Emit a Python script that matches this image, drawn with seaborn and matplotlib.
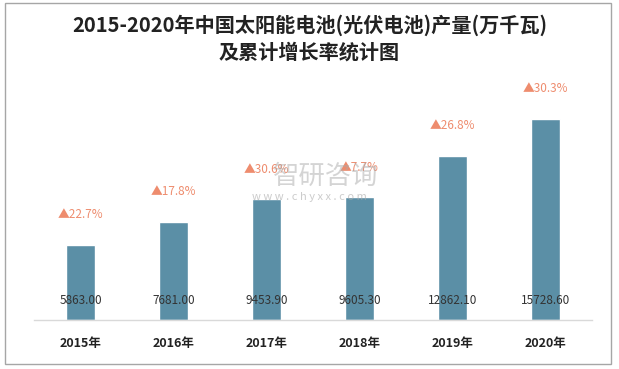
import matplotlib
matplotlib.use("Agg")
import matplotlib.pyplot as plt
import seaborn as sns
import pandas as pd
from matplotlib.patches import Rectangle

# data
years = ["2015年", "2016年", "2017年", "2018年", "2019年", "2020年"]
output = [5863.00, 7681.00, 9453.90, 9605.30, 12862.10, 15728.60]
growth = ["22.7%", "17.8%", "30.6%", "7.7%", "26.8%", "30.3%"]

df = pd.DataFrame({"year": years, "output": output})

sns.set_style("white")
plt.rcParams["font.family"] = ["Noto Sans CJK SC", "DejaVu Sans"]

fig = plt.figure(figsize=(6.19, 3.69), dpi=100)
ax = fig.add_axes([34 / 619, 1 - 320 / 369, 558 / 619, 245 / 369])

sns.barplot(data=df, x="year", y="output", color="#5B8FA6", width=0.31,
            saturation=1, ax=ax)

ax.set_ylim(0, 19170)
ax.set_xlim(-0.5, 5.5)
ax.set_xlabel("")
ax.set_ylabel("")
ax.set_yticks([])
ax.tick_params(axis="x", length=0, pad=12)
for lbl in ax.get_xticklabels():
    lbl.set_fontweight("bold")
    lbl.set_fontsize(9)
    lbl.set_color("#222222")
for side in ["top", "left", "right"]:
    ax.spines[side].set_visible(False)
ax.spines["bottom"].set_color("#D9D9D9")
ax.spines["bottom"].set_linewidth(1)

for i, (v, g) in enumerate(zip(output, growth)):
    ax.annotate(f"{v:.2f}", (i, 0), xytext=(0, 9), textcoords="offset points",
                ha="center", va="bottom", fontsize=8.5, color="#333333")
    ax.annotate("▲" + g, (i, v), xytext=(0, 17), textcoords="offset points",
                ha="center", va="bottom", fontsize=8.5, color="#EE8C6E")

# watermark (sits behind the labels, as in the source image)
fig.text(326 / 619, 1 - 176 / 369, "智研咨询", fontsize=19, color="#AAAAAA",
         alpha=0.5, ha="center", va="center", zorder=0)
fig.text(309 / 619, 1 - 197 / 369, "w w w . c h y x x . c o m", fontsize=8,
         color="#AAAAAA", alpha=0.6, ha="center", va="center", zorder=0)

fig.text(0.5, 1 - 25 / 369, "2015-2020年中国太阳能电池(光伏电池)产量(万千瓦)",
         ha="center", va="center", fontsize=14.5, fontweight="bold", color="#222222")
fig.text(0.5, 1 - 52 / 369, "及累计增长率统计图",
         ha="center", va="center", fontsize=14.5, fontweight="bold", color="#222222")

fig.patches.append(Rectangle((5 / 619, 5 / 369), 606 / 619, 361 / 369,
                             transform=fig.transFigure, fill=False,
                             edgecolor="#A6A6A6", linewidth=1))

fig.savefig("out.png", dpi=100)
